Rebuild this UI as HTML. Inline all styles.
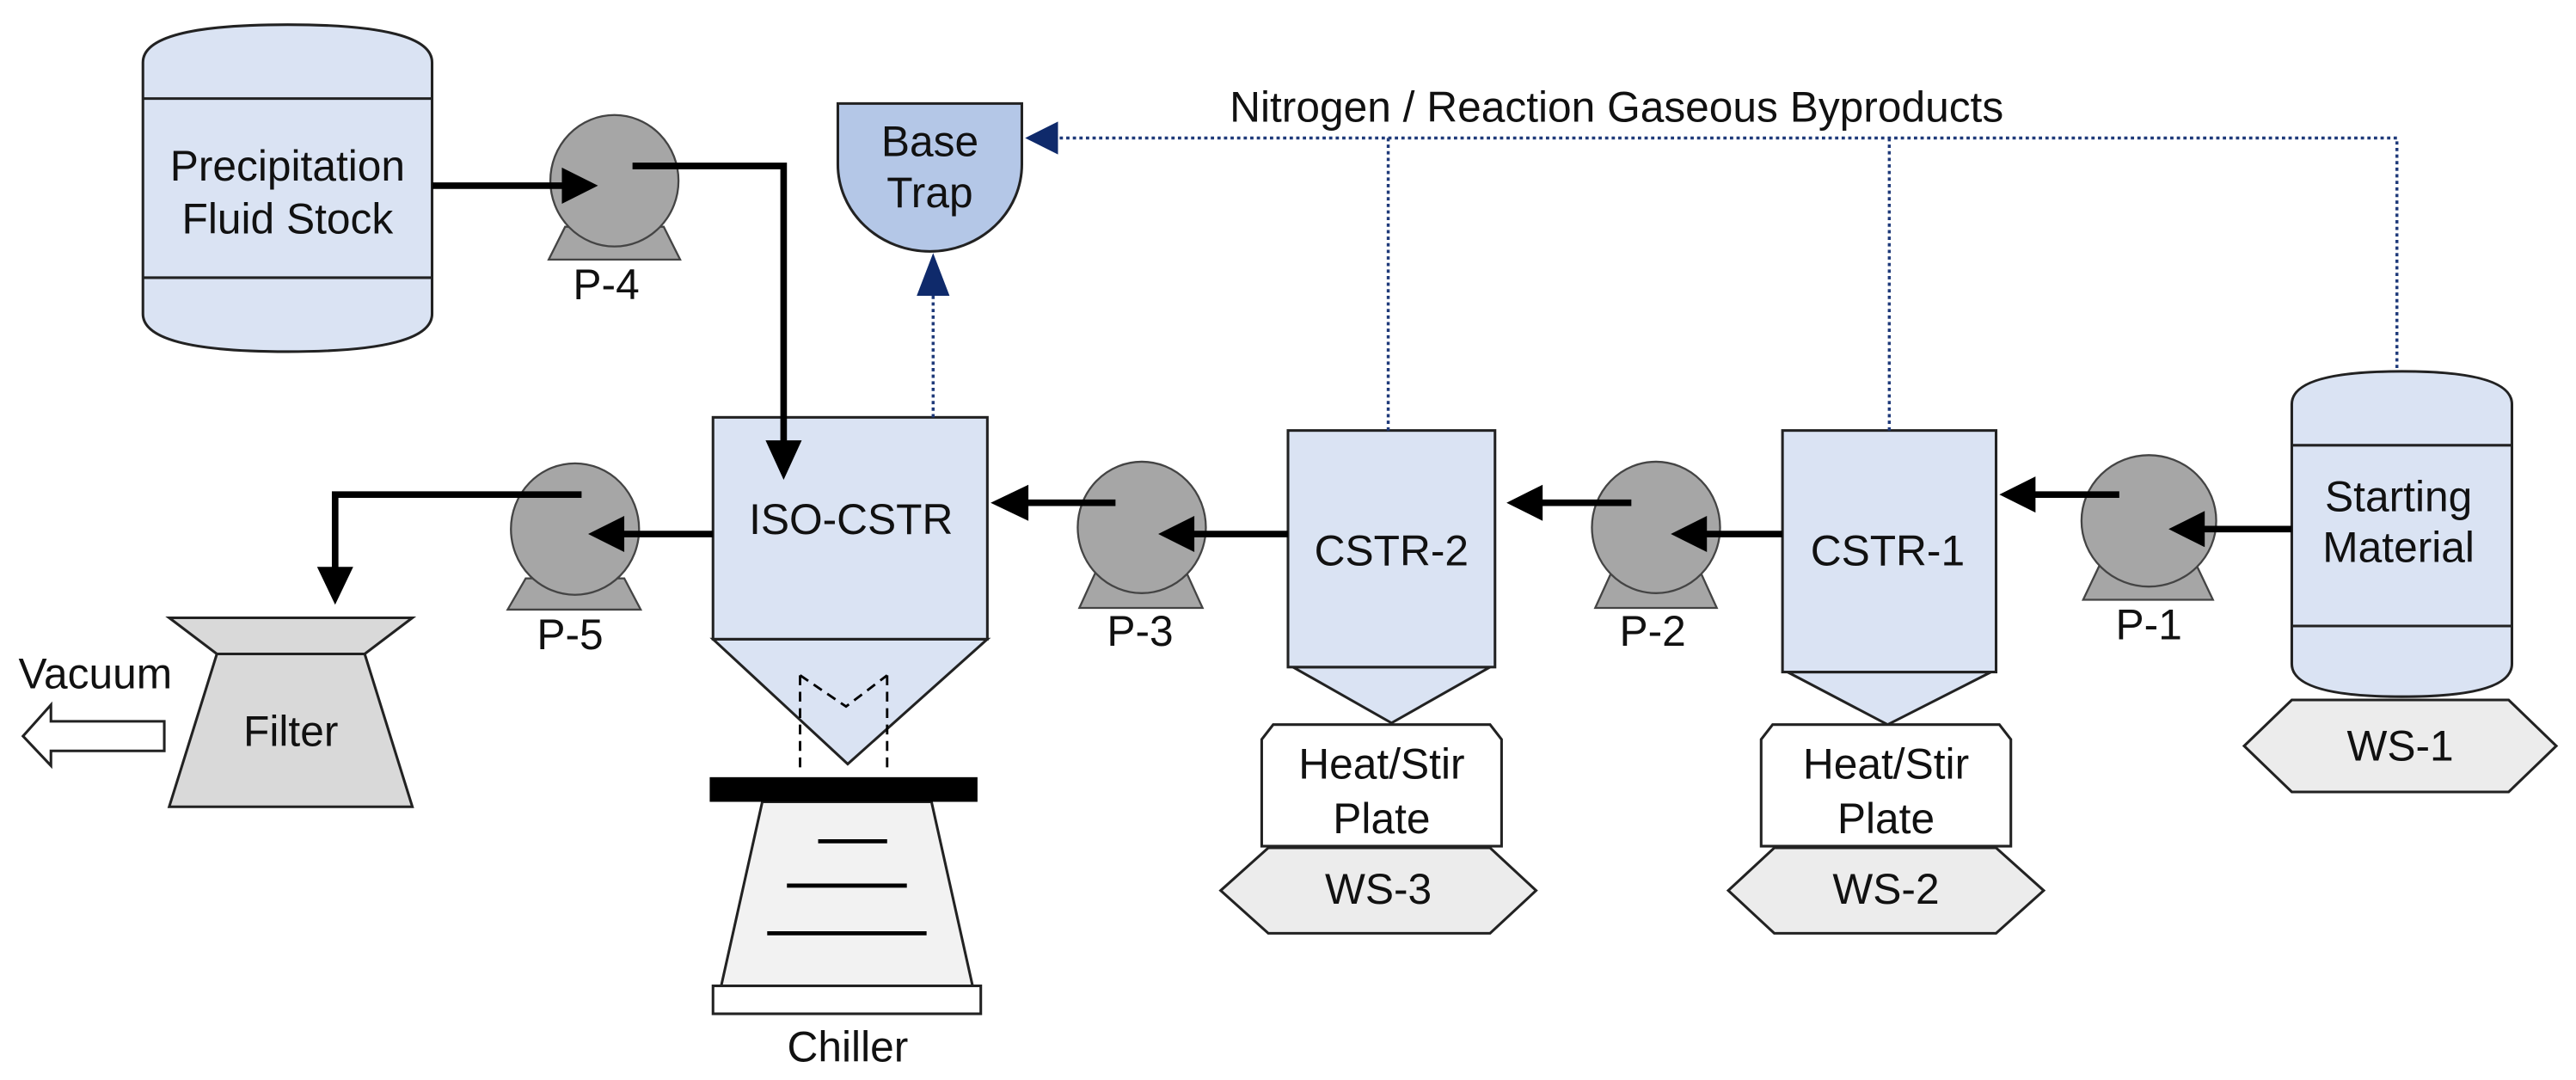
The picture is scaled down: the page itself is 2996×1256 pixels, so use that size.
<!DOCTYPE html>
<html><head><meta charset="utf-8"><style>html,body{margin:0;padding:0;background:#fff}svg{display:block}</style></head>
<body>
<svg width="2996" height="1256" viewBox="0 0 1568 657.3" preserveAspectRatio="none" xmlns="http://www.w3.org/2000/svg" font-family="Liberation Sans, Arial, sans-serif">
<g stroke="#222" stroke-width="1.6">
<path d="M87,38 Q87,15 175,15 Q263,15 263,38 L263,191 Q263,214 175,214 Q87,214 87,191 Z" fill="#dae3f3"/>
<line x1="87" y1="60" x2="263" y2="60"/><line x1="87" y1="169" x2="263" y2="169"/>
<path d="M1395,246 Q1395,226 1462,226 Q1529,226 1529,246 L1529,404 Q1529,424 1462,424 Q1395,424 1395,404 Z" fill="#dae3f3"/>
<line x1="1395" y1="271" x2="1529" y2="271"/><line x1="1395" y1="381" x2="1529" y2="381"/>
<path d="M510,63 L622,63 L622,100 A56,53 0 0 1 510,100 Z" fill="#b4c7e7"/>
<path d="M434,389 L601,389 L516,465 Z" fill="#dae3f3"/>
<rect x="434" y="254" width="167" height="135" fill="#dae3f3"/>
<path d="M787,406 L907,406 L847,440 Z" fill="#dae3f3"/>
<rect x="784" y="262" width="126" height="144" fill="#dae3f3"/>
<path d="M1088,409 L1212,409 L1149,441 Z" fill="#dae3f3"/>
<rect x="1085" y="262" width="130" height="147" fill="#dae3f3"/>
<path d="M775,441 L907,441 L914,450 L914,515 L768,515 L768,450 Z" fill="#fff"/>
<path d="M1079,441 L1217,441 L1224,450 L1224,515 L1072,515 L1072,450 Z" fill="#fff"/>
<path d="M772,516 L907,516 L935,542 L907,568 L772,568 L743,542 Z" fill="#ececec"/>
<path d="M1080,516 L1215,516 L1244,542 L1215,568 L1080,568 L1052,542 Z" fill="#ececec"/>
<path d="M1395,426 L1527,426 L1556,454 L1527,482 L1395,482 L1366,454 Z" fill="#ececec"/>
<path d="M103,376 L251,376 L222,398 L132,398 Z" fill="#d9d9d9"/>
<path d="M132,398 L222,398 L251,491 L103,491 Z" fill="#d9d9d9"/>
<path d="M100,439 L31,439 L31,429 L14,448 L31,466 L31,457 L100,457 Z" fill="#fff"/>
<path d="M464,488 L567,488 L592,600 L439,600 Z" fill="#f2f2f2"/>
<rect x="434" y="600" width="163" height="17" fill="#fff"/>
</g>
<rect x="432" y="473" width="163" height="15" fill="#000"/>
<g stroke="#000" stroke-width="2.5">
<line x1="498" y1="512" x2="540" y2="512"/><line x1="479" y1="539" x2="552" y2="539"/><line x1="467" y1="568" x2="564" y2="568"/>
</g>
<g stroke="#000" stroke-width="1.5" stroke-dasharray="6,4" fill="none">
<line x1="487" y1="411" x2="487" y2="470"/><line x1="540" y1="411" x2="540" y2="470"/>
<path d="M487,411 L515,430 L540,411"/>
</g>
<g stroke="#444" stroke-width="1.2" fill="#a6a6a6">
<path d="M344,138 L404,138 L414,158 L334,158 Z"/><ellipse cx="374" cy="110" rx="39" ry="40"/>
<path d="M320,352 L380,352 L390,371 L309,371 Z"/><ellipse cx="350" cy="322" rx="39" ry="40"/>
<path d="M667,348 L722,348 L732,370 L657,370 Z"/><ellipse cx="695" cy="321" rx="39" ry="40"/>
<path d="M981,348 L1035,348 L1045,370 L971,370 Z"/><ellipse cx="1008" cy="321" rx="39" ry="40"/>
<path d="M1278,344 L1337,344 L1347,365 L1268,365 Z"/><ellipse cx="1308" cy="317" rx="41" ry="40"/>
</g>
<g stroke="#000" stroke-width="4" fill="none">
<line x1="263" y1="113" x2="345" y2="113"/>
<polyline points="385,101 477,101 477,272"/>
<line x1="434" y1="325" x2="375" y2="325"/>
<polyline points="354,301 204,301 204,348"/>
<line x1="784" y1="325" x2="722" y2="325"/>
<line x1="679" y1="306" x2="621" y2="306"/>
<line x1="1085" y1="325" x2="1034" y2="325"/>
<line x1="993" y1="306" x2="934" y2="306"/>
<line x1="1395" y1="322" x2="1337" y2="322"/>
<line x1="1290" y1="301" x2="1234" y2="301"/>
</g>
<g fill="#000">
<path d="M364,113 L342,102 L342,124 Z"/>
<path d="M477,292 L466,268 L488,268 Z"/>
<path d="M358,325 L380,314 L380,336 Z"/>
<path d="M204,368 L193,345 L215,345 Z"/>
<path d="M705,325 L727,314 L727,336 Z"/>
<path d="M603,306 L626,295 L626,317 Z"/>
<path d="M1017,325 L1039,314 L1039,336 Z"/>
<path d="M917,306 L939,295 L939,317 Z"/>
<path d="M1320,322 L1342,311 L1342,333 Z"/>
<path d="M1217,301 L1239,290 L1239,312 Z"/>
</g>
<g stroke="#1f3a7a" stroke-width="1.8" stroke-dasharray="2,2" fill="none">
<polyline points="1459,224 1459,84 642,84"/>
<line x1="845" y1="84" x2="845" y2="262"/>
<line x1="1150" y1="84" x2="1150" y2="262"/>
<line x1="568" y1="254" x2="568" y2="178"/>
</g>
<g fill="#0f2a6b">
<path d="M624,84 L644,74 L644,94 Z"/>
<path d="M568,154 L558,180 L578,180 Z"/>
</g>
<g font-size="26" fill="#111" text-anchor="middle">
<text x="175" y="110">Precipitation</text>
<text x="175" y="142">Fluid Stock</text>
<text x="566" y="95">Base</text>
<text x="566" y="126">Trap</text>
<text x="518" y="325">ISO-CSTR</text>
<text x="847" y="344">CSTR-2</text>
<text x="1149" y="344">CSTR-1</text>
<text x="1460" y="311">Starting</text>
<text x="1460" y="342">Material</text>
<text x="841" y="474">Heat/Stir</text>
<text x="841" y="507">Plate</text>
<text x="1148" y="474">Heat/Stir</text>
<text x="1148" y="507">Plate</text>
<text x="839" y="550">WS-3</text>
<text x="1148" y="550">WS-2</text>
<text x="1461" y="463">WS-1</text>
<text x="177" y="454">Filter</text>
<text x="58" y="419">Vacuum</text>
<text x="516" y="646">Chiller</text>
<text x="369" y="182">P-4</text>
<text x="347" y="395">P-5</text>
<text x="694" y="393">P-3</text>
<text x="1006" y="393">P-2</text>
<text x="1308" y="389">P-1</text>
<text x="984" y="74">Nitrogen / Reaction Gaseous Byproducts</text>
</g>
</svg>
</body></html>
